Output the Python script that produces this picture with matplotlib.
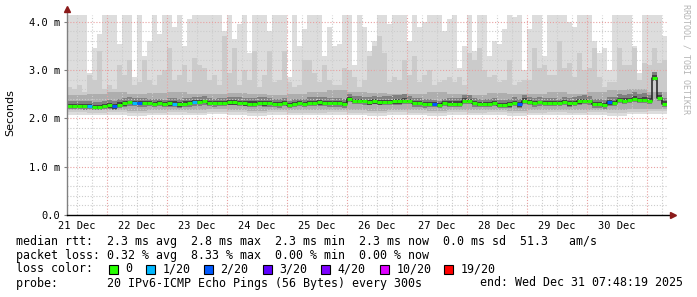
import datetime as dt

import matplotlib
matplotlib.use("Agg")
import matplotlib.pyplot as plt
import matplotlib.dates as mdates
import numpy as np
from matplotlib.patches import Rectangle

# ── time frame ──
END = dt.datetime(2025, 12, 31, 7, 48, 19)
START = END - dt.timedelta(days=10)
FIRST_BIN = dt.datetime(2025, 12, 21, 8, 0)
BIN_H = 2                      # one value per 2 hours (120 bins)

# ── median rtt per bin (ms) ──
median = [
    2.26, 2.26, 2.26, 2.25, 2.26, 2.24, 2.24, 2.25, 2.27, 2.25, 2.28, 2.31,
    2.33, 2.32, 2.31, 2.31, 2.31, 2.30, 2.31, 2.29, 2.31, 2.30, 2.29, 2.30,
    2.31, 2.34, 2.34, 2.35, 2.32, 2.31, 2.32, 2.32, 2.33, 2.33, 2.32, 2.31,
    2.30, 2.30, 2.32, 2.31, 2.31, 2.30, 2.29, 2.32, 2.27, 2.30, 2.31, 2.30,
    2.32, 2.32, 2.33, 2.32, 2.32, 2.31, 2.31, 2.30, 2.40, 2.37, 2.36, 2.35,
    2.33, 2.35, 2.33, 2.34, 2.34, 2.35, 2.35, 2.37, 2.36, 2.31, 2.31, 2.29,
    2.30, 2.29, 2.27, 2.31, 2.30, 2.30, 2.30, 2.37, 2.37, 2.31, 2.30, 2.30,
    2.30, 2.32, 2.28, 2.28, 2.29, 2.32, 2.29, 2.37, 2.34, 2.31, 2.33, 2.32,
    2.32, 2.32, 2.31, 2.34, 2.31, 2.32, 2.35, 2.36, 2.35, 2.30, 2.30, 2.27,
    2.33, 2.32, 2.38, 2.37, 2.38, 2.41, 2.38, 2.39, 2.37, 2.84, 2.43, 2.30,
]

# bins with lost pings (of 20)
loss_bins = [4, 9, 13, 14, 21, 25, 73, 90, 108]
loss_count = [1, 2, 1, 2, 1, 1, 2, 2, 2]

# ── smoke: slowest ping per bin (values above the scale are clipped) ──
smoke_max = [
    4.3, 4.3, 4.3, 4.3, 2.95, 3.45, 3.75, 4.3, 4.3, 4.3, 3.55, 4.3,
    4.3, 2.85, 4.3, 3.3, 3.6, 4.3, 3.75, 4.3, 4.3, 3.9, 4.3, 3.5,
    4.05, 4.3, 4.3, 4.3, 4.3, 4.3, 4.3, 3.8, 4.3, 3.65, 3.95, 4.3,
    3.35, 4.3, 4.3, 4.3, 3.8, 4.3, 4.3, 4.3, 2.85, 4.3, 3.5, 3.85,
    4.3, 4.3, 4.3, 3.3, 3.9, 3.5, 3.55, 4.3, 4.3, 3.1, 4.3, 3.9,
    3.4, 3.6, 4.3, 4.3, 3.95, 4.3, 4.3, 4.3, 3.6, 4.3, 3.9, 4.0,
    4.3, 4.3, 4.3, 3.8, 4.05, 4.3, 3.05, 3.5, 4.3, 3.4, 4.3, 4.3,
    3.3, 3.6, 3.55, 3.85, 4.3, 4.1, 4.3, 3.0, 3.85, 4.3, 4.3, 3.3,
    4.3, 4.3, 4.3, 4.3, 4.0, 3.9, 4.3, 4.3, 4.3, 3.6, 3.35, 3.45,
    3.0, 4.3, 4.3, 4.3, 4.3, 3.5, 2.95, 4.3, 4.3, 4.3, 4.3, 3.7,
]
# second ring of the smoke (medium grey columns)
smoke_mid = [
    2.65, 2.6, 2.7, 2.55, 2.9, 2.8, 3.4, 2.6, 2.7, 2.6, 3.1, 2.9,
    3.2, 2.7, 2.75, 3.2, 2.8, 2.7, 2.9, 3.0, 3.45, 2.8, 2.9, 3.1,
    2.75, 3.25, 3.1, 3.05, 2.8, 2.9, 2.7, 3.7, 2.95, 3.45, 2.7, 3.0,
    2.8, 3.4, 2.65, 2.9, 3.4, 2.75, 2.8, 3.4, 2.75, 2.65, 2.7, 3.2,
    3.2, 2.95, 2.75, 3.1, 2.8, 2.7, 2.7, 3.05, 3.0, 2.85, 2.65, 2.8,
    3.3, 3.5, 3.7, 3.35, 2.75, 2.85, 2.8, 3.2, 2.9, 3.3, 2.75, 2.9,
    3.0, 2.7, 2.75, 2.8, 2.85, 2.75, 2.85, 2.7, 3.35, 3.2, 3.45, 3.0,
    2.85, 2.9, 2.75, 2.8, 3.2, 2.7, 2.75, 2.8, 2.8, 3.45, 3.05, 3.1,
    2.9, 2.9, 3.6, 3.05, 3.15, 2.85, 3.35, 3.0, 3.05, 3.45, 2.85, 2.65,
    2.75, 2.75, 3.45, 3.1, 3.1, 3.45, 2.8, 3.15, 3.1, 3.45, 3.15, 3.2,
]

# coarser rings, one value per 8 hours (30 values)
smoke_min = [2.08, 2.07, 2.08, 2.06, 2.07, 2.08, 2.07, 2.09, 2.08, 2.06,
             2.08, 2.07, 2.07, 2.08, 2.07, 2.06, 2.08, 2.07, 2.06, 2.08,
             2.07, 2.08, 2.06, 2.07, 2.08, 2.07, 2.08, 2.06, 2.09, 2.10]
smoke_lo2 = [2.13, 2.12, 2.13, 2.11, 2.12, 2.13, 2.12, 2.14, 2.13, 2.11,
             2.13, 2.12, 2.12, 2.13, 2.12, 2.11, 2.13, 2.12, 2.11, 2.13,
             2.12, 2.13, 2.11, 2.12, 2.13, 2.12, 2.13, 2.12, 2.14, 2.15]
smoke_lo3 = [2.17, 2.17, 2.18, 2.16, 2.17, 2.18, 2.17, 2.19, 2.18, 2.16,
             2.18, 2.17, 2.17, 2.18, 2.17, 2.16, 2.18, 2.17, 2.16, 2.18,
             2.17, 2.18, 2.16, 2.17, 2.18, 2.17, 2.18, 2.17, 2.19, 2.20]
smoke_hi3 = [2.48, 2.50, 2.55, 2.50, 2.52, 2.55, 2.50, 2.50, 2.52, 2.50,
             2.48, 2.50, 2.55, 2.58, 2.55, 2.52, 2.50, 2.50, 2.55, 2.50,
             2.48, 2.52, 2.50, 2.50, 2.55, 2.50, 2.55, 2.58, 2.60, 2.55]
# inner rings around the median: spread above / below (ms)
dark_up = [0.10, 0.10, 0.12, 0.11, 0.10, 0.12, 0.11, 0.10, 0.12, 0.13,
           0.11, 0.10, 0.12, 0.11, 0.10, 0.12, 0.13, 0.11, 0.10, 0.12,
           0.11, 0.10, 0.12, 0.11, 0.10, 0.12, 0.11, 0.12, 0.13, 0.12]
dark_dn = [0.07, 0.06, 0.07, 0.07, 0.06, 0.07, 0.08, 0.07, 0.06, 0.07,
           0.07, 0.06, 0.07, 0.08, 0.07, 0.06, 0.07, 0.07, 0.06, 0.07,
           0.07, 0.06, 0.07, 0.07, 0.06, 0.07, 0.08, 0.07, 0.07, 0.07]
core = [0.04, 0.04, 0.05, 0.04, 0.04, 0.05, 0.04, 0.04, 0.05, 0.05,
        0.04, 0.04, 0.05, 0.04, 0.04, 0.05, 0.05, 0.04, 0.04, 0.05,
        0.04, 0.04, 0.05, 0.04, 0.04, 0.05, 0.04, 0.05, 0.05, 0.05]

# ── legend texts ──
loss_labels = ["0", "1/20", "2/20", "3/20", "4/20", "10/20", "19/20"]
loss_colors = ["#26ff00", "#00b8ff", "#0059ff", "#5e00ff", "#7e00ff",
               "#dd00ff", "#ff0000"]
stat_lines = [
    "median rtt:  2.3 ms avg  2.8 ms max  2.3 ms min  2.3 ms now  0.0 ms sd  51.3   am/s",
    "packet loss: 0.32 % avg  8.33 % max  0.00 % min  0.00 % now",
]
probe_text = "probe:       20 IPv6-ICMP Echo Pings (56 Bytes) every 300s"
end_text = "end: Wed Dec 31 07:48:19 2025"
day_labels = ["21 Dec", "22 Dec", "23 Dec", "24 Dec", "25 Dec",
              "26 Dec", "27 Dec", "28 Dec", "29 Dec", "30 Dec"]

MONO = "DejaVu Sans Mono"
W, H = 697, 297


def fx(px):
    return px / W


def fy(py):
    return 1 - py / H


def stair(a):
    a = np.asarray(a, dtype=float)
    return np.append(a, a[-1])


# ── arrays on the time axis ──
n = len(median)
edges = mdates.date2num([FIRST_BIN + dt.timedelta(hours=BIN_H * i)
                         for i in range(n + 1)])
med = np.asarray(median)
hi1 = np.asarray(smoke_max)
hi2 = np.asarray(smoke_mid)
lo1 = np.repeat(smoke_min, 4)
lo2 = np.repeat(smoke_lo2, 4)
lo3 = np.repeat(smoke_lo3, 4)
hi3 = np.repeat(smoke_hi3, 4)
hi4 = med + np.repeat(dark_up, 4)
lo4 = med - np.repeat(dark_dn, 4)
hi5 = med + np.repeat(core, 4)
lo5 = med - np.repeat(core, 4)

loss = np.zeros(n, dtype=int)
loss[loss_bins] = loss_count
color_of = dict(zip([0, 1, 2, 3, 4, 10, 19], loss_colors))
seg_colors = [color_of[int(v)] for v in loss]

fig = plt.figure(figsize=(W / 100, H / 100), dpi=100)
ax = fig.add_axes([fx(66.7), 1 - 215 / H, 600 / W, 200 / H])
ax.set_xlim(mdates.date2num(START), mdates.date2num(END))
ax.set_ylim(0, 200 / 48.3)

# smoke, outer ring first
rings = [(lo1, hi1, "#dddddd"), (lo2, hi2, "#cbcbcb"), (lo3, hi3, "#aeaeae"),
         (lo4, hi4, "#808080"), (lo5, hi5, "#444444")]
for lo, hi, c in rings:
    ax.fill_between(edges, stair(lo), stair(hi), step="post",
                    color=c, lw=0, zorder=1)

# grid on top of the smoke
dots = (0, (1, 1.6))
for k in range(1, 21):
    major = k % 5 == 0
    ax.axhline(k * 0.2, color="#e8a0a0" if major else "#cccccc",
               lw=0.8, ls=dots, zorder=2)
t = dt.datetime(2025, 12, 21, 12)
while t < END:
    ax.axvline(mdates.date2num(t), color="#e8a0a0" if t.hour == 0 else "#cccccc",
               lw=0.8, ls=dots, zorder=2)
    t += dt.timedelta(hours=6)

# median: dark step line plus loss-coloured segments
ax.step(edges, stair(med), where="post", color="#202020", lw=1.1, zorder=4)
ax.hlines(med, edges[:-1], edges[1:], colors=seg_colors, lw=2.2, zorder=5)

# axes
for s in ax.spines.values():
    s.set_visible(False)
ax.plot([0, 0], [0, 1.03], transform=ax.transAxes, color="#808080",
        lw=1, clip_on=False, zorder=6)
ax.plot([0, 1.01], [0, 0], transform=ax.transAxes, color="black",
        lw=1, clip_on=False, zorder=6)
ax.plot([0], [1.03], marker="^", ms=4, color="#8b1a1a",
        transform=ax.transAxes, clip_on=False, zorder=7)
ax.plot([1.01], [0], marker=">", ms=4, color="#8b1a1a",
        transform=ax.transAxes, clip_on=False, zorder=7)

ax.set_yticks([0, 1, 2, 3, 4])
ax.set_yticklabels(["0.0", "1.0 m", "2.0 m", "3.0 m", "4.0 m"],
                   family=MONO, fontsize=7.5)
ax.tick_params(axis="y", length=2, color="#808080", pad=3)
noons = [mdates.date2num(dt.datetime(2025, 12, 21 + d, 12)) for d in range(10)]
ax.set_xticks(noons)
ax.set_xticklabels(day_labels, family=MONO, fontsize=7.5)
ax.tick_params(axis="x", length=0, pad=4)

fig.text(fx(10), fy(113), "Seconds", rotation=90, ha="center", va="center",
         fontsize=8, family="DejaVu Sans")
fig.text(fx(686), fy(4), "RRDTOOL / TOBI OETIKER", rotation=-90,
         ha="center", va="top", fontsize=6, family=MONO, color="#b4b4b4")

# legend block
for i, line in enumerate(stat_lines):
    fig.text(fx(16), fy(241 + 14 * i), line, ha="left", va="center",
             family=MONO, fontsize=8.4)
fig.text(fx(16), fy(269), "loss color:", ha="left", va="center",
         family=MONO, fontsize=8.4)
box_x = [108.5, 146, 203.5, 262.5, 320.5, 379.5, 444]
for bx, lab, c in zip(box_x, loss_labels, loss_colors):
    fig.add_artist(Rectangle((fx(bx), fy(273.5)), 9 / W, 9 / H,
                             transform=fig.transFigure, facecolor=c,
                             edgecolor="black", lw=0.8))
    fig.text(fx(bx + 17), fy(269), lab, ha="left", va="center",
             family=MONO, fontsize=8.4)
fig.text(fx(16), fy(283), probe_text, ha="left", va="center",
         family=MONO, fontsize=8.4)
fig.text(fx(683), fy(283), end_text, ha="right", va="center",
         family=MONO, fontsize=8.4)

fig.savefig("out.png", dpi=100)
plt.close(fig)
